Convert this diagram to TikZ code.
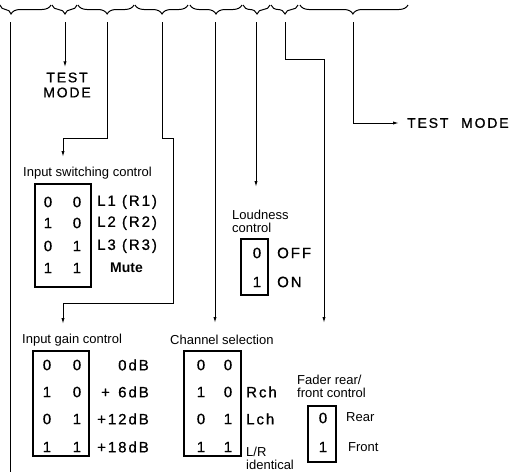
\documentclass[tikz,border=0pt]{standalone}
\usepackage{fontspec}
\setmainfont{Liberation Sans}
\newfontfamily\widefont[LetterSpace=13,FakeBold=0.8]{Liberation Sans}
\usetikzlibrary{decorations.pathreplacing,arrows.meta}
\begin{document}
\begin{tikzpicture}[x=1pt,y=-1pt,
  conn/.style={line width=1pt},
  arr/.style={conn,-{Latex[length=6pt,width=3.2pt]}},
  brc/.style={line width=1pt, decorate, decoration={brace,mirror,amplitude=9pt,aspect=#1}},
  ttl/.style={inner sep=0, font=\fontsize{13}{13}\selectfont, align=left},
  wd/.style={inner sep=0, font=\widefont\fontsize{15}{15}\selectfont},
  bx/.style={draw, line width=1.2pt, inner sep=0}]
\useasboundingbox (0,0) rectangle (525,472);

% braces
\draw[brc=0.216] (0,5) -- (51,5);
\draw[brc=0.52] (52,5) -- (77,5);
\draw[brc=0.52] (78,5) -- (134,5);
\draw[brc=0.51] (135,5) -- (188,5);
\draw[brc=0.5] (190,5) -- (242,5);
\draw[brc=0.52] (243,5) -- (270,5);
\draw[brc=0.52] (271,5) -- (298,5);
\draw[brc=0.49] (300,5) -- (408,5);

% line start points
\coordinate (a0) at (10,22);
\coordinate (a1) at (10,472);
\coordinate (b0) at (65,22);
\coordinate (c0) at (107,22);
\coordinate (d0) at (162,22);
\coordinate (e0) at (215,22);
\coordinate (f0) at (256,22);
\coordinate (g0) at (285,22);
\coordinate (h0) at (353,22);
\coordinate (isin) at (63,157);
\coordinate (igin) at (63,324);
\coordinate (csin) at (215,323);
\coordinate (ldin) at (256,187);
\coordinate (fdin) at (324,323);

% test mode labels
\node[wd, align=center, font=\widefont\fontsize{14}{15}\selectfont] (tm1) at (67,85) {TEST\\MODE};
\node[wd, anchor=west, font=\widefont\fontsize{14}{15}\selectfont] (tm2) at (407,123) {TEST\hspace{7pt} MODE};

% connectors
\draw[conn] (a0) -- (a1);
\draw[arr, shorten >=5pt] (b0) -- (b0 |- tm1.north);
\draw[arr] (c0) -- (107,138) -| (isin);
\draw[arr] (d0) -- (162,138) -- (173,138) -- (173,303) -| (igin);
\draw[arr] (e0) -- (csin);
\draw[arr] (f0) -- (ldin);
\draw[arr] (g0) -- (285,59) -| (fdin);
\draw[arr, shorten >=8pt] (h0) |- (tm2.west);

% Input switching control
\node[ttl, anchor=west] (istitle) at (23,173) {Input switching control};
\node[bx, minimum width=56pt, minimum height=103pt] (isbox) at (63,235.5) {};
\foreach \r/\y/\p/\q/\t in {1/202/0/0/{L1 (R1)},2/223/1/0/{L2 (R2)},3/246/0/1/{L3 (R3)}}{
  \node[wd] (is\r a) at (48,\y) {\p};
  \node[wd] (is\r b) at (77,\y) {\q};
  \node[wd, anchor=west] (is\r l) at (97,\y) {\t};
}
\node[wd] (is4a) at (48,268) {1};
\node[wd] (is4b) at (77,268) {1};
\node[inner sep=0, anchor=west, font=\fontsize{14}{14}\selectfont\bfseries] (is4l) at (110,268) {Mute};

% Loudness control
\node[ttl, anchor=west] (ldtitle) at (232,221.5) {Loudness\\control};
\node[bx, minimum width=27pt, minimum height=56pt] (ldbox) at (254.5,267) {};
\node[wd] (ld1a) at (257,253) {0};
\node[wd] (ld2a) at (257,282) {1};
\node[wd, anchor=west] (ld1l) at (277,253) {OFF};
\node[wd, anchor=west] (ld2l) at (277,282) {ON};

% Input gain control
\node[ttl, anchor=west] (igtitle) at (22,340) {Input gain control};
\node[bx, minimum width=56pt, minimum height=105pt] (igbox) at (61,403.5) {};
\foreach \r/\y/\p/\q/\t in {1/365/0/0/{0dB},2/392/1/0/{+\hphantom{1}6dB},3/419/0/1/{+12dB},4/447/1/1/{+18dB}}{
  \node[wd] (ig\r a) at (47,\y) {\p};
  \node[wd] (ig\r b) at (77,\y) {\q};
  \node[wd, anchor=east] (ig\r l) at (149,\y) {\t};
}

% Channel selection
\node[ttl, anchor=west] (cstitle) at (170,340) {Channel selection};
\node[bx, minimum width=57pt, minimum height=105pt] (csbox) at (212.5,403.5) {};
\foreach \r/\y/\p/\q in {1/365/0/0,2/392/1/0,3/419/0/1,4/447/1/1}{
  \node[wd] (cs\r a) at (201,\y) {\p};
  \node[wd] (cs\r b) at (228,\y) {\q};
}
\node[wd, anchor=west] (cs2l) at (246,392) {Rch};
\node[wd, anchor=west] (cs3l) at (246,419) {Lch};
\node[ttl, anchor=west, font=\fontsize{13}{13}\selectfont] (cs4l) at (246,458) {L/R\\identical};

% Fader rear/front control
\node[ttl, anchor=west] (fdtitle) at (297,386.5) {Fader rear/\\front control};
\node[bx, minimum width=28pt, minimum height=56pt] (fdbox) at (322,434) {};
\node[wd] (fd1a) at (323,418) {0};
\node[wd] (fd2a) at (323,447) {1};
\node[ttl, anchor=west] (fd1l) at (346,417) {Rear};
\node[ttl, anchor=west] (fd2l) at (348,447) {Front};
\end{tikzpicture}
\end{document}
